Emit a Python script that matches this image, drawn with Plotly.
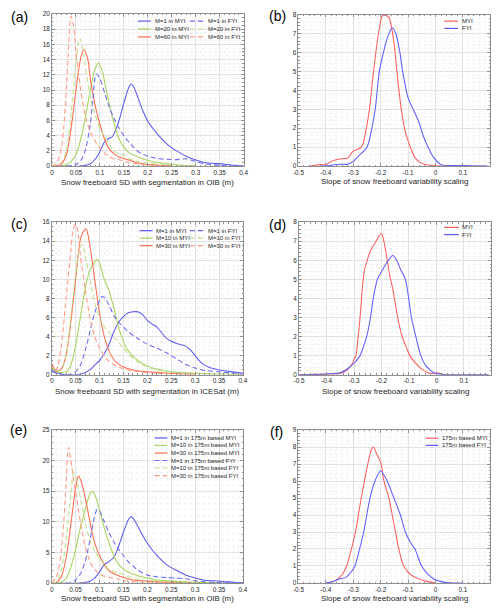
import plotly.graph_objects as go

W, H = 500, 610

# ---------------- data ----------------
# (a) OIB segmentation, M = 1 / 20 / 60
a_m1_myi_x = [0, 0.06, 0.08, 0.09, 0.1, 0.11, 0.12, 0.125, 0.13, 0.14, 0.15, 0.16, 0.165, 0.17, 0.18, 0.19, 0.2, 0.21, 0.22, 0.24, 0.25, 0.26, 0.28, 0.3, 0.32, 0.34, 0.36, 0.38, 0.4]
a_m1_myi_y = [0, 0, 0.3, 0.9, 1.9, 3.2, 3.7, 3.8, 4.3, 6.0, 8.3, 10.3, 10.8, 10.5, 8.9, 7.2, 5.9, 5.0, 4.2, 2.9, 2.4, 2.0, 1.3, 0.8, 0.45, 0.35, 0.25, 0.1, 0.02]
a_m1_fyi_x = [0.03, 0.05, 0.06, 0.07, 0.08, 0.085, 0.0925, 0.1, 0.11, 0.12, 0.13, 0.14, 0.15, 0.16, 0.17, 0.18, 0.2, 0.22, 0.24, 0.26, 0.28, 0.3, 0.32, 0.35, 0.4]
a_m1_fyi_y = [0, 0.2, 0.7, 2.2, 5.5, 8.5, 12.1, 11.5, 9.6, 7.7, 6.2, 5.0, 4.0, 3.2, 2.5, 1.9, 1.3, 1.0, 0.9, 0.85, 0.95, 0.6, 0.3, 0.1, 0]
a_m20_myi_x = [0.02, 0.03, 0.04, 0.05, 0.06, 0.07, 0.08, 0.09, 0.097, 0.105, 0.11, 0.12, 0.13, 0.14, 0.15, 0.16, 0.18, 0.2, 0.22, 0.24, 0.26, 0.3]
a_m20_myi_y = [0, 0.2, 0.6, 1.5, 3.5, 6.5, 10, 12.8, 13.5, 12.5, 11, 8, 5.5, 3.6, 2.5, 1.8, 1.2, 0.75, 0.5, 0.3, 0.15, 0.03]
a_m20_fyi_x = [0, 0.01, 0.02, 0.03, 0.04, 0.05, 0.058, 0.065, 0.07, 0.08, 0.09, 0.1, 0.11, 0.12, 0.13, 0.14, 0.15, 0.16, 0.18, 0.2, 0.24, 0.3]
a_m20_fyi_y = [0, 0.1, 0.5, 2, 7, 13.5, 16.8, 15.2, 13, 9, 6.8, 5.0, 3.8, 2.8, 2.0, 1.6, 1.5, 1.0, 0.6, 0.4, 0.2, 0.05]
a_m60_myi_x = [0, 0.01, 0.02, 0.03, 0.04, 0.05, 0.06, 0.0667, 0.075, 0.08, 0.09, 0.1, 0.11, 0.12, 0.13, 0.14, 0.15, 0.16, 0.18, 0.2, 0.25]
a_m60_myi_y = [0, 0.05, 0.3, 1.5, 5, 10, 14.2, 15.3, 14, 11.5, 8, 5.5, 3.5, 2.2, 1.6, 1.2, 1.0, 0.8, 0.4, 0.2, 0.03]
a_m60_fyi_x = [0, 0.01, 0.02, 0.025, 0.03, 0.035, 0.0395, 0.045, 0.05, 0.06, 0.07, 0.08, 0.09, 0.1, 0.11, 0.12, 0.13, 0.14, 0.15, 0.16, 0.18, 0.2, 0.25]
a_m60_fyi_y = [0, 0.4, 2.5, 5.5, 10, 16, 19.7, 18.5, 15, 10, 6.5, 4.5, 3.3, 2.4, 1.7, 1.2, 0.95, 0.85, 0.7, 0.45, 0.3, 0.15, 0.03]

# (b) slope, OIB
b_myi_x = [-0.46, -0.42, -0.4, -0.38, -0.35, -0.33, -0.318, -0.3, -0.27, -0.255, -0.241, -0.226, -0.208, -0.193, -0.18, -0.17, -0.16, -0.15, -0.14, -0.125, -0.11, -0.092, -0.075, -0.057, -0.04, -0.02, 0, 0.05]
b_myi_y = [0, 0.08, 0.08, 0.25, 0.38, 0.4, 0.45, 0.8, 1.0, 1.8, 3.0, 5.0, 7.0, 7.95, 7.95, 7.85, 7.3, 6.3, 4.9, 3.0, 1.8, 1.0, 0.45, 0.2, 0.1, 0.05, 0.02, 0]
b_fyi_x = [-0.42, -0.38, -0.35, -0.32, -0.3, -0.283, -0.25, -0.235, -0.22, -0.205, -0.19, -0.175, -0.158, -0.145, -0.13, -0.12, -0.1, -0.085, -0.075, -0.06, -0.045, -0.027, -0.009, 0.02, 0.05, 0.1, 0.19]
b_fyi_y = [0, 0.05, 0.1, 0.1, 0.25, 0.5, 1.0, 1.8, 3.0, 5.0, 6.0, 6.8, 7.3, 7.0, 6.0, 5.0, 3.6, 3.1, 2.8, 2.3, 1.6, 1.0, 0.5, 0.08, 0.03, 0.03, 0]

# (c) ICESat segmentation, M = 1 / 10 / 30
c_m1_myi_x = [0, 0.01, 0.03, 0.06, 0.08, 0.09, 0.1, 0.11, 0.12, 0.13, 0.14, 0.15, 0.16, 0.17, 0.18, 0.19, 0.2, 0.21, 0.22, 0.23, 0.24, 0.25, 0.26, 0.27, 0.28, 0.29, 0.3, 0.31, 0.32, 0.33, 0.35, 0.37, 0.4]
c_m1_myi_y = [0.5, 0.2, 0, 0.05, 0.5, 1.0, 1.5, 2.2, 3.2, 4.5, 5.5, 6.1, 6.5, 6.6, 6.6, 6.3, 5.7, 5.3, 5.0, 4.4, 3.8, 3.5, 3.3, 3.15, 3.0, 2.6, 2.0, 1.4, 1.0, 0.75, 0.5, 0.35, 0.15]
c_m1_fyi_x = [0, 0.02, 0.04, 0.05, 0.06, 0.07, 0.08, 0.09, 0.1, 0.105, 0.11, 0.12, 0.13, 0.14, 0.15, 0.16, 0.18, 0.2, 0.22, 0.24, 0.26, 0.28, 0.3, 0.32, 0.35, 0.4]
c_m1_fyi_y = [0.3, 0.05, 0, 0.3, 1.0, 2.5, 4.5, 6.5, 7.8, 8.2, 8.1, 7.3, 6.2, 5.5, 5.0, 4.5, 3.8, 3.2, 2.8, 2.3, 1.7, 1.1, 0.7, 0.45, 0.3, 0.1]
c_m10_myi_x = [0, 0.01, 0.03, 0.04, 0.05, 0.06, 0.07, 0.08, 0.09, 0.095, 0.1, 0.11, 0.12, 0.13, 0.14, 0.15, 0.16, 0.18, 0.2, 0.22, 0.25, 0.3, 0.4]
c_m10_myi_y = [0.8, 0.3, 0.3, 1.0, 3.0, 6.0, 9.0, 11.0, 11.8, 12.1, 11.7, 10.0, 8.8, 7.0, 5.0, 3.5, 2.5, 1.5, 0.9, 0.6, 0.3, 0.15, 0.05]
c_m10_fyi_x = [0, 0.01, 0.02, 0.03, 0.04, 0.05, 0.06, 0.065, 0.07, 0.08, 0.09, 0.1, 0.11, 0.12, 0.13, 0.14, 0.15, 0.16, 0.18, 0.2, 0.22, 0.25, 0.3]
c_m10_fyi_y = [1.0, 0.4, 0.5, 2.0, 6.0, 10.5, 13.5, 13.6, 12.5, 10.0, 7.5, 6.0, 5.0, 4.4, 3.9, 3.4, 2.8, 2.2, 1.3, 0.8, 0.5, 0.3, 0.1]
c_m30_myi_x = [0, 0.01, 0.02, 0.03, 0.04, 0.05, 0.06, 0.065, 0.072, 0.08, 0.09, 0.1, 0.11, 0.12, 0.13, 0.14, 0.15, 0.17, 0.2, 0.25, 0.3]
c_m30_myi_y = [1.2, 0.4, 0.6, 2.0, 5.5, 10.0, 14.2, 14.9, 15.3, 13.5, 10.0, 6.5, 4.0, 2.5, 1.6, 1.1, 0.8, 0.5, 0.3, 0.15, 0.05]
c_m30_fyi_x = [0, 0.005, 0.01, 0.02, 0.03, 0.04, 0.045, 0.05, 0.055, 0.06, 0.07, 0.08, 0.09, 0.1, 0.11, 0.12, 0.14, 0.16, 0.2, 0.25]
c_m30_fyi_y = [1.2, 0.5, 0.5, 3.0, 8.0, 13.0, 15.2, 15.8, 15.0, 12.5, 9.0, 6.0, 4.0, 2.8, 2.0, 1.4, 0.8, 0.5, 0.2, 0.1]

# (d) slope, ICESat
d_myi_x = [-0.5, -0.4, -0.35, -0.33, -0.31, -0.3, -0.293, -0.285, -0.278, -0.27, -0.262, -0.252, -0.24, -0.22, -0.2, -0.19, -0.179, -0.17, -0.159, -0.141, -0.125, -0.111, -0.097, -0.069, -0.05, -0.03, -0.01, 0, 0.01, 0.03, 0.19]
d_myi_y = [0, 0.03, 0.08, 0.2, 0.5, 0.8, 1.0, 2.0, 3.0, 4.5, 5.5, 6.0, 6.5, 7.0, 7.4, 6.9, 6.0, 5.2, 4.5, 3.0, 2.0, 1.5, 1.0, 0.5, 0.25, 0.1, 0.05, 0.1, 0.08, 0, 0]
d_fyi_x = [-0.5, -0.4, -0.35, -0.32, -0.3, -0.278, -0.265, -0.254, -0.24, -0.23, -0.215, -0.2, -0.18, -0.159, -0.145, -0.13, -0.113, -0.101, -0.091, -0.075, -0.057, -0.04, -0.027, -0.01, 0.02, 0.05, 0.19]
d_fyi_y = [0, 0.04, 0.1, 0.35, 0.6, 1.0, 1.5, 2.0, 3.0, 4.0, 5.0, 5.4, 5.9, 6.25, 6.0, 5.5, 5.0, 4.0, 3.0, 2.0, 1.0, 0.5, 0.3, 0.1, 0.02, 0, 0]

# (e) 175 m based ice type, OIB segmentation
e_m1_myi_x = [0, 0.06, 0.08, 0.09, 0.1, 0.11, 0.12, 0.13, 0.14, 0.15, 0.16, 0.165, 0.17, 0.18, 0.19, 0.2, 0.22, 0.24, 0.26, 0.28, 0.3, 0.32, 0.34, 0.36, 0.38, 0.4]
e_m1_myi_y = [0, 0, 0.3, 0.8, 1.8, 3.0, 3.5, 4.2, 6.0, 8.3, 10.3, 10.8, 10.6, 9.3, 7.8, 6.5, 4.5, 3.0, 2.1, 1.3, 0.8, 0.45, 0.35, 0.25, 0.1, 0.05]
e_m10_myi_x = [0, 0.02, 0.03, 0.04, 0.05, 0.06, 0.07, 0.08, 0.085, 0.09, 0.1, 0.11, 0.12, 0.13, 0.14, 0.15, 0.16, 0.18, 0.2, 0.22, 0.25, 0.3, 0.35]
e_m10_myi_y = [0, 0.1, 0.7, 2.5, 5.5, 9.0, 12.0, 14.5, 15.0, 14.5, 12.0, 9.0, 6.5, 4.5, 3.0, 2.3, 1.8, 1.2, 0.8, 0.5, 0.3, 0.1, 0.02]
e_m30_myi_x = [0, 0.01, 0.02, 0.03, 0.04, 0.05, 0.056, 0.06, 0.07, 0.08, 0.09, 0.1, 0.11, 0.12, 0.13, 0.15, 0.17, 0.2, 0.25, 0.3]
e_m30_myi_y = [0, 0.1, 1.0, 4.0, 9.5, 15.5, 17.5, 17.0, 14.0, 10.0, 6.5, 4.5, 3.0, 2.0, 1.5, 0.9, 0.5, 0.3, 0.1, 0.03]
e_m1_fyi_x = [0.03, 0.04, 0.05, 0.06, 0.07, 0.08, 0.09, 0.095, 0.1, 0.11, 0.12, 0.13, 0.14, 0.15, 0.16, 0.17, 0.18, 0.2, 0.22, 0.24, 0.26, 0.28, 0.3, 0.32, 0.35, 0.4]
e_m1_fyi_y = [0, 0, 0.5, 1.5, 3.5, 7.0, 11.0, 12.0, 11.8, 10.0, 8.2, 6.7, 5.5, 4.5, 3.5, 2.8, 2.1, 1.3, 1.0, 0.9, 0.8, 0.7, 0.4, 0.2, 0.1, 0]
e_m10_fyi_x = [0, 0.01, 0.02, 0.03, 0.04, 0.046, 0.05, 0.06, 0.07, 0.08, 0.09, 0.1, 0.11, 0.12, 0.13, 0.14, 0.15, 0.16, 0.18, 0.2, 0.25, 0.3]
e_m10_fyi_y = [0, 0.2, 2.0, 7.0, 14.5, 18.0, 17.5, 14.0, 10.0, 7.0, 5.2, 4.0, 3.0, 2.2, 1.8, 1.7, 1.4, 1.0, 0.6, 0.4, 0.15, 0.05]
e_m30_fyi_x = [0, 0.01, 0.02, 0.03, 0.035, 0.04, 0.05, 0.06, 0.07, 0.08, 0.09, 0.1, 0.11, 0.12, 0.13, 0.14, 0.16, 0.2, 0.25]
e_m30_fyi_y = [0, 1.0, 5.0, 16.0, 22.2, 20.0, 15.0, 10.0, 6.0, 3.5, 2.2, 1.5, 1.1, 0.9, 0.8, 0.6, 0.3, 0.15, 0.05]

# (f) slope, 175 m based ice type
f_myi_x = [-0.4, -0.38, -0.36, -0.34, -0.324, -0.31, -0.292, -0.271, -0.247, -0.235, -0.227, -0.215, -0.2, -0.188, -0.17, -0.158, -0.146, -0.134, -0.116, -0.092, -0.07, -0.045, -0.02, 0]
f_myi_y = [0, 0.05, 0.2, 0.5, 1.0, 1.8, 3.0, 5.0, 7.0, 7.8, 8.0, 7.6, 7.1, 6.0, 5.0, 4.0, 3.0, 2.0, 1.0, 0.5, 0.3, 0.15, 0.05, 0]
f_fyi_x = [-0.4, -0.37, -0.35, -0.33, -0.31, -0.294, -0.28, -0.262, -0.239, -0.221, -0.2, -0.19, -0.176, -0.152, -0.128, -0.11, -0.092, -0.08, -0.075, -0.051, -0.027, -0.003, 0.03, 0.06, 0.1]
f_fyi_y = [0, 0.1, 0.25, 0.3, 0.6, 1.0, 1.8, 3.0, 5.0, 6.0, 6.6, 6.4, 6.0, 5.0, 4.0, 3.0, 2.4, 2.1, 2.0, 1.0, 0.5, 0.2, 0.05, 0, 0]

# tick labels
sd_xticks = [0, 0.05, 0.1, 0.15, 0.2, 0.25, 0.3, 0.35, 0.4]
sd_xticktext = ["0", "0.05", "0.1", "0.15", "0.2", "0.25", "0.3", "0.35", "0.4"]
slope_xticks = [-0.5, -0.4, -0.3, -0.2, -0.1, 0, 0.1]
slope_xticktext = ["-0.5", "-0.4", "-0.3", "-0.2", "-0.1", "0", "0.1"]
a_yticks = [0, 2, 4, 6, 8, 10, 12, 14, 16, 18, 20]
b_yticks = [0, 1, 2, 3, 4, 5, 6, 7, 8]
c_yticks = [0, 2, 4, 6, 8, 10, 12, 14, 16]
d_yticks = [0, 1, 2, 3, 4, 5, 6, 7, 8]
e_yticks = [0, 5, 10, 15, 20, 25]
f_yticks = [0, 1, 2, 3, 4, 5, 6, 7, 8, 9]

sd_title_oib = "Snow freeboard SD with segmentation in OIB (m)"
sd_title_icesat = "Snow freeboard SD with segmentation in ICESat (m)"
slope_title = "Slope of snow freeboard variability scaling"

# ---------------- styling ----------------
FONT = "Liberation Sans"
BLUE, BLUE_D = "#5a5af0", "#6a6af2"
GREEN, GREEN_D = "#a6d35a", "#bfe08a"
ORANGE, ORANGE_D = "#ff6a4c", "#ff9a82"
RED2, BLUE2 = "#ff5c5c", "#5c5cff"
DASH = "5px,3px"

def fx(px):
    return px / W

def fy(py):
    return 1 - py / H

fig = go.Figure()

panels = [
    dict(lab="(a)", lab_xy=(14, 13), xd=(47, 243), yd=(10, 164), xr=[0, 0.4], yr=[0, 20],
         xt=sd_xticks, xtt=sd_xticktext, xminor=0.01, yt=a_yticks, yminor=0.5,
         title=sd_title_oib, title_xy=(145, 181),
         series=[
             ("M=1 in MYI", a_m1_myi_x, a_m1_myi_y, BLUE, "solid"),
             ("M=20 in MYI", a_m20_myi_x, a_m20_myi_y, GREEN, "solid"),
             ("M=60 in MYI", a_m60_myi_x, a_m60_myi_y, ORANGE, "solid"),
             ("M=1 in FYI", a_m1_fyi_x, a_m1_fyi_y, BLUE_D, DASH),
             ("M=20 in FYI", a_m20_fyi_x, a_m20_fyi_y, GREEN_D, DASH),
             ("M=60 in FYI", a_m60_fyi_x, a_m60_fyi_y, ORANGE_D, DASH),
         ],
         legend=dict(kind="two", rows=[17.3, 25.3, 33.3], cols=[(135, 148, 150), (188, 202, 204)])),
    dict(lab="(b)", lab_xy=(277.5, 12), xd=(299, 495), yd=(10.7, 164), xr=[-0.5, 0.199], yr=[0, 8],
         xt=slope_xticks, xtt=slope_xticktext, xminor=0.02, yt=b_yticks, yminor=0.2,
         title=slope_title, title_xy=(397, 180),
         series=[
             ("MYI", b_myi_x, b_myi_y, RED2, "solid"),
             ("FYI", b_fyi_x, b_fyi_y, BLUE2, "solid"),
         ],
         legend=dict(kind="one", rows=[17.3, 24.7], cols=[(448, 462, 464)])),
    dict(lab="(c)", lab_xy=(13, 223), xd=(46.7, 242.3), yd=(220.7, 375), xr=[0, 0.4], yr=[0, 16],
         xt=sd_xticks, xtt=sd_xticktext, xminor=0.01, yt=c_yticks, yminor=0.5,
         title=sd_title_icesat, title_xy=(144.5, 392.3),
         series=[
             ("M=1 in MYI", c_m1_myi_x, c_m1_myi_y, BLUE, "solid"),
             ("M=10 in MYI", c_m10_myi_x, c_m10_myi_y, GREEN, "solid"),
             ("M=30 in MYI", c_m30_myi_x, c_m30_myi_y, ORANGE, "solid"),
             ("M=1 in FYI", c_m1_fyi_x, c_m1_fyi_y, BLUE_D, DASH),
             ("M=10 in FYI", c_m10_fyi_x, c_m10_fyi_y, GREEN_D, DASH),
             ("M=30 in FYI", c_m30_fyi_x, c_m30_fyi_y, ORANGE_D, DASH),
         ],
         legend=dict(kind="two", rows=[229.3, 236.9, 244.5], cols=[(136.5, 150, 151.5), (188, 202, 204)])),
    dict(lab="(d)", lab_xy=(278, 224), xd=(299.7, 496), yd=(220.7, 375), xr=[-0.5, 0.199], yr=[0, 8],
         xt=slope_xticks, xtt=slope_xticktext, xminor=0.02, yt=d_yticks, yminor=0.2,
         title=slope_title, title_xy=(398, 391.7),
         series=[
             ("MYI", d_myi_x, d_myi_y, RED2, "solid"),
             ("FYI", d_fyi_x, d_fyi_y, BLUE2, "solid"),
         ],
         legend=dict(kind="one", rows=[226, 233.3], cols=[(448, 463, 464)])),
    dict(lab="(e)", lab_xy=(13, 431), xd=(46.7, 242.3), yd=(431, 585.7), xr=[0, 0.4], yr=[0, 25],
         xt=sd_xticks, xtt=sd_xticktext, xminor=0.01, yt=e_yticks, yminor=1,
         title=sd_title_oib, title_xy=(144.5, 601),
         series=[
             ("M=1 in 175m based MYI", e_m1_myi_x, e_m1_myi_y, BLUE, "solid"),
             ("M=10 in 175m based MYI", e_m10_myi_x, e_m10_myi_y, GREEN, "solid"),
             ("M=30 in 175m based MYI", e_m30_myi_x, e_m30_myi_y, ORANGE, "solid"),
             ("M=1 in 175m based FYI", e_m1_fyi_x, e_m1_fyi_y, BLUE_D, DASH),
             ("M=10 in 175m based FYI", e_m10_fyi_x, e_m10_fyi_y, GREEN_D, DASH),
             ("M=30 in 175m based FYI", e_m30_fyi_x, e_m30_fyi_y, ORANGE_D, DASH),
         ],
         legend=dict(kind="one", rows=[439, 446.6, 454.2, 461.8, 469.4, 477], cols=[(152, 165, 167)])),
    dict(lab="(f)", lab_xy=(277, 433), xd=(299, 495), yd=(431, 585.7), xr=[-0.5, 0.199], yr=[0, 9],
         xt=slope_xticks, xtt=slope_xticktext, xminor=0.02, yt=f_yticks, yminor=0.2,
         title=slope_title, title_xy=(397, 601.7),
         series=[
             ("175m based MYI", f_myi_x, f_myi_y, RED2, "solid"),
             ("175m based FYI", f_fyi_x, f_fyi_y, BLUE2, "solid"),
         ],
         legend=dict(kind="one", rows=[439.3, 446.5], cols=[(429, 442, 444)])),
]

AXCOL = "#8f8f8f"
GRID = "#e2e2e2"
MGRID = "#f3f3f3"
TXT = "#262626"

annotations = []
shapes = []
layout = dict(width=W, height=H, margin=dict(l=0, r=0, t=0, b=0),
              paper_bgcolor="white", plot_bgcolor="white", showlegend=False)

for i, p in enumerate(panels):
    n = "" if i == 0 else str(i + 1)
    xref, yref = "x" + n, "y" + n
    common = dict(showline=True, linecolor=AXCOL, linewidth=0.8, mirror="ticks",
                  ticks="inside", ticklen=3, tickcolor=AXCOL, tickwidth=0.8,
                  showgrid=True, gridcolor=GRID, gridwidth=0.7, zeroline=False,
                  tickfont=dict(family=FONT, size=6.4, color=TXT), fixedrange=True)
    layout["xaxis" + n] = dict(common, domain=[fx(p["xd"][0]), fx(p["xd"][1])], anchor=yref,
                              range=p["xr"], tickmode="array", tickvals=p["xt"], ticktext=p["xtt"],
                              minor=dict(tickmode="linear", tick0=0, dtick=p["xminor"], ticks="inside",
                                         ticklen=1.5, tickcolor=AXCOL, showgrid=True,
                                         gridcolor=MGRID, griddash="dot", gridwidth=0.6))
    layout["yaxis" + n] = dict(common, domain=[fy(p["yd"][1]), fy(p["yd"][0])], anchor=xref,
                              range=p["yr"], tickmode="array", tickvals=p["yt"],
                              ticktext=[str(v) for v in p["yt"]],
                              minor=dict(tickmode="linear", tick0=0, dtick=p["yminor"], ticks="inside",
                                         ticklen=1.5, tickcolor=AXCOL, showgrid=True,
                                         gridcolor=MGRID, griddash="dot", gridwidth=0.6))
    for name, xs, ys, col, dash in p["series"]:
        fig.add_trace(go.Scatter(x=xs, y=ys, name=name, mode="lines", xaxis=xref, yaxis=yref,
                                 line=dict(color=col, width=1.05, dash=dash, shape="spline", smoothing=0.8),
                                 cliponaxis=True, hoverinfo="skip"))
    # panel label
    annotations.append(dict(text=p["lab"], x=fx(p["lab_xy"][0]), y=fy(p["lab_xy"][1]),
                            xref="paper", yref="paper", showarrow=False, xanchor="center", yanchor="middle",
                            font=dict(family=FONT, size=14, color="black")))
    # axis title
    annotations.append(dict(text=p["title"], x=fx(p["title_xy"][0]), y=fy(p["title_xy"][1]),
                            xref="paper", yref="paper", showarrow=False, xanchor="center", yanchor="middle",
                            font=dict(family=FONT, size=7.9, color=TXT)))
    # legend (drawn entries)
    lg = p["legend"]
    rows, cols = lg["rows"], lg["cols"]
    nrows = len(rows)
    for k, (name, xs, ys, col, dash) in enumerate(p["series"]):
        ci, ri = divmod(k, nrows) if lg["kind"] == "two" else (0, k)
        x0, x1, xt = cols[ci]
        yy = rows[ri]
        shapes.append(dict(type="line", xref="paper", yref="paper", x0=fx(x0), x1=fx(x1),
                           y0=fy(yy), y1=fy(yy), line=dict(color=col, width=1.2, dash=dash)))
        annotations.append(dict(text=name, x=fx(xt), y=fy(yy), xref="paper", yref="paper",
                                showarrow=False, xanchor="left", yanchor="middle",
                                font=dict(family=FONT, size=6, color=TXT)))

layout["annotations"] = annotations
layout["shapes"] = shapes
fig.update_layout(**layout)
fig.write_html("out.html", config={"displayModeBar": False},
               post_script="document.body.style.margin='0';document.body.style.overflow='hidden';")
